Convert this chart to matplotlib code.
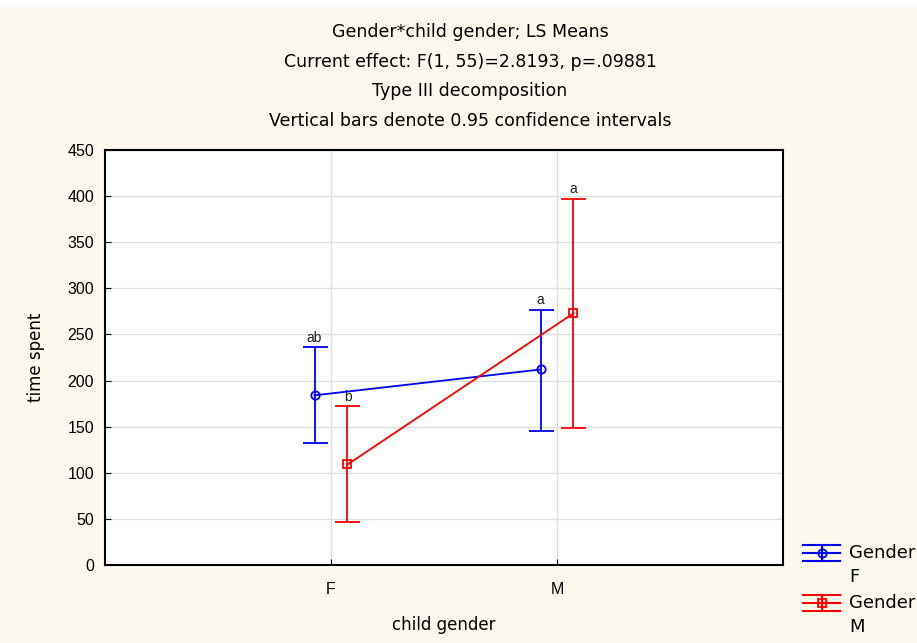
import numpy as np
import matplotlib.pyplot as plt
from matplotlib.lines import Line2D
from matplotlib.patches import Rectangle

plt.rcParams['font.family'] = ['Liberation Sans', 'DejaVu Sans']

# Data
categories = ["F", "M"]
series = ["Gender\nF", "Gender\nM"]
means_f = [184, 212]          # Gender F
upper_f = [236, 277]
lower_f = [132, 145]
means_m = [109, 273]          # Gender M
upper_m = [172, 397]
lower_m = [47, 149]
letters_f = ["ab", "a"]
letters_m = ["b", "a"]
colors = ["#0000ff", "#ff0000"]
markers = ["o", "s"]

W, H = 917, 643
fig = plt.figure(figsize=(W / 100, H / 100), dpi=100)
fig.patch.set_facecolor("#fdf8ee")
fig.patches.append(Rectangle((0, 1 - 7 / H), 1, 7 / H, transform=fig.transFigure,
                             facecolor="white", edgecolor="none", zorder=-1))
ax = fig.add_axes([105 / W, 78 / H, 678 / W, 415 / H])
ax.set_facecolor("white")

x = np.arange(1, len(categories) + 1)
offset = 0.073
for i, (m, up, lo, lets) in enumerate([(means_f, upper_f, lower_f, letters_f),
                                        (means_m, upper_m, lower_m, letters_m)]):
    xs = x + (-offset if i == 0 else offset)
    m = np.array(m)
    yerr = [m - np.array(lo), np.array(up) - m]
    ax.errorbar(xs, m, yerr=yerr, color=colors[i], marker=markers[i],
                markersize=6, markerfacecolor="none", markeredgewidth=1.3,
                linewidth=1.3, capsize=9, capthick=1.3, elinewidth=1.3,
                zorder=3)
    for xi, u, t in zip(xs, up, lets):
        ax.text(xi, u + 3, t, ha="center", va="bottom", fontsize=10,
                color="#202020")

ax.set_xlim(0, 3)
ax.set_ylim(0, 450)
ax.set_xticks(x)
ax.set_xticklabels(categories)
ax.set_yticks(np.arange(0, 451, 50))
ax.grid(True, color="#e0e0e0", linewidth=1.0, zorder=0)
ax.set_axisbelow(True)
ax.tick_params(axis="y", direction="in", length=4, labelsize=11.5, pad=8)
ax.tick_params(axis="x", direction="in", length=4, labelsize=11.5, pad=12)
for s in ax.spines.values():
    s.set_linewidth(1.5)
    s.set_color("black")

lab_font = dict(family=["DejaVu Sans"], fontsize=12)
ax.set_xlabel("child gender", labelpad=14, **lab_font)
ax.set_ylabel("time spent", labelpad=16, **lab_font)

titles = ["Gender*child gender; LS Means",
          "Current effect: F(1, 55)=2.8193, p=.09881",
          "Type III decomposition",
          "Vertical bars denote 0.95 confidence intervals"]
for k, t in enumerate(titles):
    fig.text(470 / W, 1 - (32 + 29.7 * k) / H, t, ha="center", va="center",
             family=["DejaVu Sans"], fontsize=12.5)

# legend drawn by hand so the handle sits on the first text line
for i, lab in enumerate(series):
    yc = 553 + 50 * i
    x0, x1, xm = 803, 840, 821.5
    kw = dict(transform=None, color=colors[i], linewidth=1.5)
    for dy in (-8, 0, 8):
        fig.add_artist(Line2D([x0, x1], [H - yc - dy] * 2, **kw))
    fig.add_artist(Line2D([xm, xm], [H - yc - 8, H - yc + 8], **kw))
    fig.add_artist(Line2D([xm], [H - yc], marker=markers[i], markersize=6,
                          markerfacecolor="none", markeredgewidth=1.3,
                          linestyle="none", transform=None, color=colors[i]))
    top, bottom = lab.split("\n")
    fig.text(849 / W, 1 - yc / H, top, ha="left", va="center",
             family=["DejaVu Sans"], fontsize=13)
    fig.text(849 / W, 1 - (yc + 24) / H, bottom, ha="left", va="center",
             family=["DejaVu Sans"], fontsize=13)

fig.savefig("out.png", dpi=100, facecolor=fig.get_facecolor())
